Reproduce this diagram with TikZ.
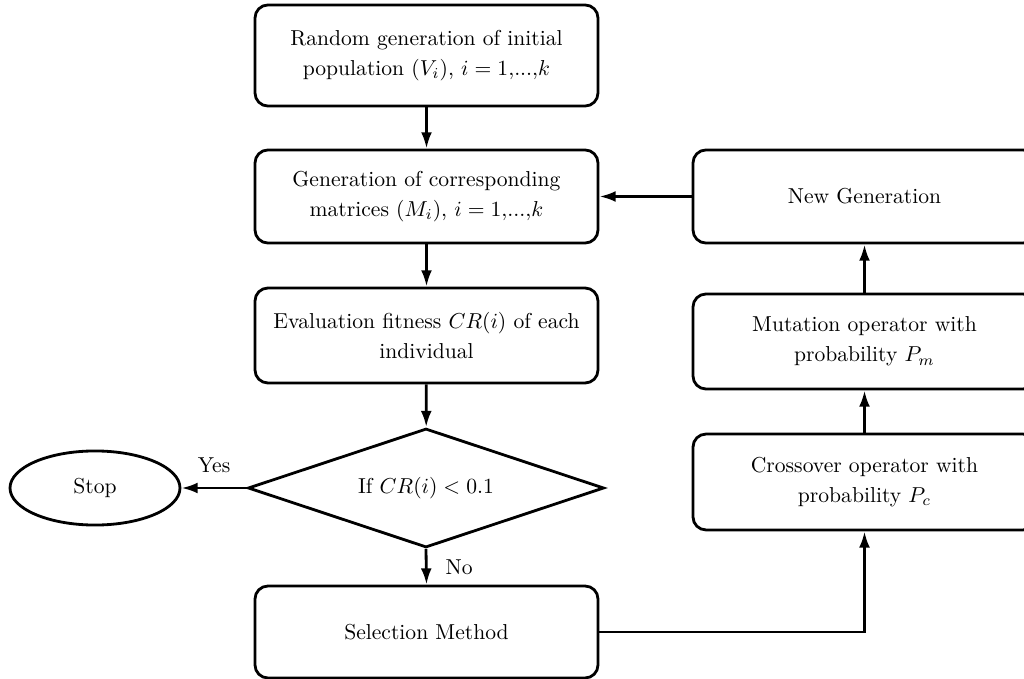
\documentclass[tikz,border=0pt]{standalone}
\usetikzlibrary{shapes.geometric,arrows.meta}
\begin{document}
\begin{tikzpicture}
            [x = 0.463pt, y = -0.463pt, line width = 1.3pt,
             stepbox/.style = {draw, rounded corners = 6pt, align = center, inner sep = 2pt,
                               font = \fontsize{10}{14}\selectfont,
                               minimum width = 158.8pt, minimum height = 44pt},
             decision/.style = {draw, diamond, aspect = 3, inner sep = 0pt,
                                minimum width = 164.8pt, minimum height = 55.1pt},
             terminal/.style = {draw, ellipse, minimum width = 78.7pt, minimum height = 34.3pt},
             flow/.style = {-{Latex[length = 7.5pt, width = 5pt]}}]
            \clip (0,0) rectangle (1024,679);
            \node[stepbox, minimum height = 46.8pt] (init) at (426.5,55.5)
                {Random generation of initial\\population $(V_i)$, $i=1{,}...{,}k$};
            \node[stepbox, minimum height = 43.1pt] (gen) at (426.5,196.5)
                {Generation of corresponding\\matrices $(M_i)$, $i=1{,}...{,}k$};
            \node[stepbox] (eval) at (426.5,335.5)
                {Evaluation fitness $CR(i)$ of each\\individual};
            \node[decision] (cond) at (426,488) {If $CR(i)<0.1$};
            \node[terminal] (stop) at (95,488) {Stop};
            \node[stepbox, minimum height = 42.6pt] (sel) at (426.5,632) {Selection Method};
            \node[stepbox, minimum height = 43.1pt] (newgen) at (864.5,196.5) {New Generation};
            \node[stepbox] (mut) at (864.5,341.5) {Mutation operator with\\probability $P_m$};
            \node[stepbox, minimum height = 44.4pt] (cross) at (864.5,482)
                {Crossover operator with\\probability $P_c$};
            \draw[flow] (init) -- (gen);
            \draw[flow] (gen) -- (eval);
            \draw[flow] (eval) -- (cond);
            \draw[flow] (cond.west) -- node[above = 3pt] {Yes} (stop.east);
            \draw[flow] (cond.south) -- node[right = 5pt] {No} (sel.north);
            \draw[flow] (sel.east) -| (cross.south);
            \draw[flow] (cross) -- (mut);
            \draw[flow] (mut) -- (newgen);
            \draw[flow] (newgen) -- (gen);
        \end{tikzpicture}
\end{document}
